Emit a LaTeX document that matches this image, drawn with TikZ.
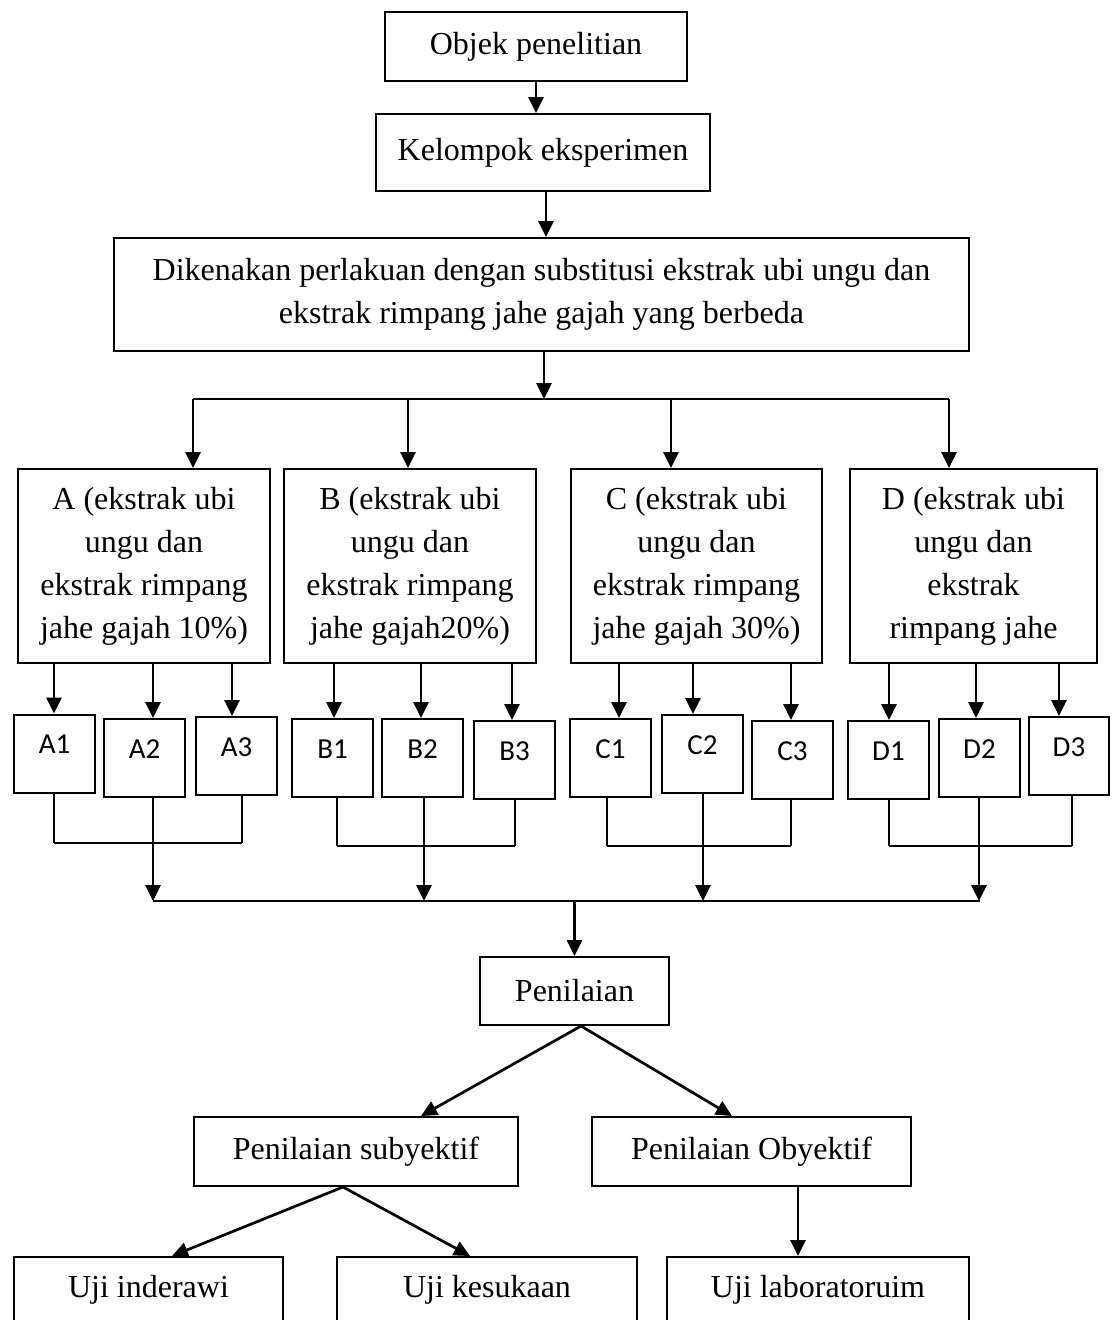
\documentclass[tikz,border=0pt]{standalone}
\usepackage{fontspec}
\setmainfont{Liberation Serif}
\newfontfamily\carlitofont{Carlito}
\usetikzlibrary{arrows.meta}
\tikzset{
  box/.style={draw, line width=2pt, inner sep=0pt, align=center,
    font=\fontsize{32}{43}\selectfont},
  smallbox/.style={draw, line width=2pt, inner sep=0pt, minimum width=81pt,
    minimum height=78pt, text depth=18pt, font=\carlitofont\fontsize{29}{34}\selectfont},
  arr/.style={line width=2.7pt, -{Triangle[length=16pt,width=15pt]}},
  ln/.style={line width=2.6pt},
  brk/.style={line width=2pt}
}
\begin{document}
\begin{tikzpicture}[x=1pt,y=-1pt]
\useasboundingbox (0,0) rectangle (1114,1320);
\clip (0,0) rectangle (1114,1320);

% top chain
\node[box, minimum width=302pt, minimum height=69pt] (obj) at (536,46.5) {Objek penelitian};
\node[box, minimum width=334pt, minimum height=77pt] (kel) at (543,152.5) {Kelompok eksperimen};
\node[box, minimum width=855pt, minimum height=113pt] (dik) at (541.5,294.5)
  {Dikenakan perlakuan dengan substitusi ekstrak ubi ungu dan\\ekstrak rimpang jahe gajah yang berbeda};

% group boxes
\node[box, minimum width=252pt, minimum height=194pt] (A) at (144,566)
  {A (ekstrak ubi\\ungu dan\\ekstrak rimpang\\jahe gajah 10\%)};
\node[box, minimum width=252pt, minimum height=194pt] (B) at (410,566)
  {B (ekstrak ubi\\ungu dan\\ekstrak rimpang\\jahe gajah20\%)};
\node[box, minimum width=251pt, minimum height=194pt] (C) at (696.5,566)
  {C (ekstrak ubi\\ungu dan\\ekstrak rimpang\\jahe gajah 30\%)};
\node[box, minimum width=247pt, minimum height=194pt] (D) at (973.5,566)
  {D (ekstrak ubi\\ungu dan\\ekstrak\\rimpang jahe};

% small boxes
\node[smallbox] (A1) at (54.5,753.5) {A1};
\node[smallbox] (A2) at (144.5,758) {A2};
\node[smallbox] (A3) at (236.5,756) {A3};
\node[smallbox] (B1) at (332.5,758) {B1};
\node[smallbox] (B2) at (422.5,758) {B2};
\node[smallbox] (B3) at (514.5,760) {B3};
\node[smallbox] (C1) at (610.5,758) {C1};
\node[smallbox] (C2) at (702.5,754) {C2};
\node[smallbox] (C3) at (792.5,760) {C3};
\node[smallbox] (D1) at (888.5,760) {D1};
\node[smallbox] (D2) at (979.5,758) {D2};
\node[smallbox, minimum width=80pt] (D3) at (1069,756) {D3};

% lower part
\node[box, minimum width=189pt, minimum height=68pt] (pen) at (574.5,991) {Penilaian};
\node[box, minimum width=324pt, minimum height=69pt] (ps) at (356,1151.5) {Penilaian subyektif};
\node[box, minimum width=319pt, minimum height=69pt] (po) at (751.5,1151.5) {Penilaian Obyektif};
\node[box, minimum width=269pt, minimum height=120pt, text height=22pt, text depth=62pt] (ui) at (148.5,1317) {Uji inderawi};
\node[box, minimum width=300pt, minimum height=120pt, text height=22pt, text depth=62pt] (uk) at (487,1317) {Uji kesukaan};
\node[box, minimum width=302pt, minimum height=120pt, text height=22pt, text depth=62pt] (ul) at (818,1317) {Uji laboratoruim};

% top connectors
\draw[arr] (obj.south) -- (obj.south |- kel.north);
\coordinate (k0) at ([xshift=3pt]kel.south);
\draw[arr] (k0) -- (k0 |- dik.north);
\coordinate (s) at (544,399);
\draw[arr] (dik.south -| s) -- (s);
\coordinate (sa) at (193,399);
\coordinate (sb) at (408,399);
\coordinate (sc) at (671,399);
\coordinate (sd) at (949,399);
\draw[ln] (sa) -- (sd);
\draw[arr] (sa) -- (sa |- A.north);
\draw[arr] (sb) -- (sb |- B.north);
\draw[arr] (sc) -- (sc |- C.north);
\draw[arr] (sd) -- (sd |- D.north);

% junction and bus coordinates
\coordinate (jA) at (153,843);
\coordinate (jB) at (424,846);
\coordinate (jC) at (703,846);
\coordinate (jD) at (979,846);
\coordinate (bl) at (153,901);
\coordinate (br) at (980,901);

\foreach \g/\s/\ax/\bx in {A/A1/54/54, A/A2/153/153, A/A3/232/242,
  B/B1/334/337, B/B2/421/424, B/B3/512/515,
  C/C1/619/607, C/C2/693/703, C/C3/791/791,
  D/D1/889/889, D/D2/976/979, D/D3/1059/1072}{
  \coordinate (t\s) at (\ax,0);
  \coordinate (b\s) at (\bx,0);
  \draw[arr] (\g.south -| t\s) -- (\s.north -| t\s);
  \draw[brk] (\s.south -| b\s) -- (b\s |- j\g);
}
\draw[brk] (bA1 |- jA) -- (bA3 |- jA);
\draw[brk] (bB1 |- jB) -- (bB3 |- jB);
\draw[brk] (bC1 |- jC) -- (bC3 |- jC);
\draw[brk] (bD1 |- jD) -- (bD3 |- jD);
\draw[arr] (jA) -- (jA |- bl);
\draw[arr] (jB) -- (jB |- bl);
\draw[arr] (jC) -- (jC |- bl);
\draw[arr] (jD) -- (jD |- bl);
\draw[ln] (bl) -- (br);

% lower connectors
\draw[arr] (pen.north |- bl) -- (pen.north);
\coordinate (p0) at ([xshift=6.5pt]pen.south);
\coordinate (p1) at ([xshift=65pt]ps.north);
\coordinate (p2) at ([xshift=-19.5pt]po.north);
\draw[arr] (p0) -- (p1);
\draw[arr] (p0) -- (p2);
\coordinate (q0) at ([xshift=-13pt]ps.south);
\coordinate (q1) at ([xshift=23.5pt]ui.north);
\coordinate (q2) at ([xshift=-17pt]uk.north);
\draw[arr] (q0) -- (q1);
\draw[arr] (q0) -- (q2);
\coordinate (r0) at ([xshift=46.5pt]po.south);
\draw[arr] (r0) -- (r0 |- ul.north);
\end{tikzpicture}
\end{document}
